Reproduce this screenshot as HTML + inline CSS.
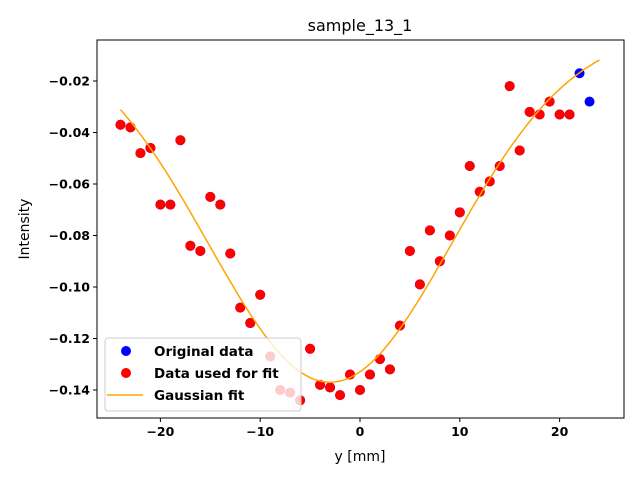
<!DOCTYPE html>
<html><head><meta charset="utf-8"><style>
body{margin:0;background:#fff}
svg{font-family:"DejaVu Sans","Liberation Sans",sans-serif}
</style></head><body>
<svg id="c" width="640" height="480" xmlns="http://www.w3.org/2000/svg"></svg>
<script>
const xs=[-24,-23,-22,-21,-20,-19,-18,-17,-16,-15,-14,-13,-12,-11,-10,-9,-8,-7,-6,-5,-4,-3,-2,-1,0,1,2,3,4,5,6,7,8,9,10,11,12,13,14,15,16,17,18,19,20,21,22,23];
const ys=[-0.037,-0.038,-0.048,-0.046,-0.068,-0.068,-0.043,-0.084,-0.086,-0.065,-0.068,-0.087,-0.108,-0.114,-0.103,-0.127,-0.140,-0.141,-0.144,-0.124,-0.138,-0.139,-0.142,-0.134,-0.140,-0.134,-0.128,-0.132,-0.115,-0.086,-0.099,-0.078,-0.090,-0.080,-0.071,-0.053,-0.063,-0.059,-0.053,-0.022,-0.047,-0.032,-0.033,-0.028,-0.033,-0.033,-0.017,-0.028];
const fitMask=xs.map(x=>x<=21);
const fitParams=[0,-0.137,-3,12.2]; // offset, amplitude, center, sigma
const xTicks=[-20,-10,0,10,20];
const yTicks=[-0.02,-0.04,-0.06,-0.08,-0.10,-0.12,-0.14];
const L=97,R=624,T=40,B=418;
const sx=v=>360+v*9.98;
const sy=v=>81+(-0.02-v)*2575;
const svg=document.getElementById('c');
const NS='http://www.w3.org/2000/svg';
function mk(tag,attrs,parent){const e=document.createElementNS(NS,tag);for(const k in attrs)e.setAttribute(k,attrs[k]);(parent||svg).appendChild(e);return e;}
let t=mk('text',{x:360,y:31,'text-anchor':'middle','font-size':16});t.textContent='sample_13_1';


const fmt=v=>(v<0?'\u2212':'')+Math.abs(v).toFixed(Number.isInteger(v)?0:2);
xTicks.forEach(v=>{const x=sx(v);
 mk('line',{x1:x,x2:x,y1:B,y2:B+4,stroke:'#000'});
 const e=mk('text',{x:x,y:B+18,'text-anchor':'middle','font-size':12.5,'font-weight':'bold'});e.textContent=fmt(v);
 
 });
yTicks.forEach(v=>{const y=sy(v);
 mk('line',{x1:L-4,x2:L,y1:y,y2:y,stroke:'#000'});
 const e=mk('text',{x:L-7,y:y+4.5,'text-anchor':'end','font-size':12.5,'font-weight':'bold'});e.textContent=fmt(v);
 
 });
t=mk('text',{x:360,y:461,'text-anchor':'middle','font-size':14});t.textContent='y [mm]';


t=mk('text',{x:29,y:229,'text-anchor':'middle','font-size':14,transform:'rotate(-90 29 229)'});t.textContent='Intensity';


xs.forEach((x,i)=>{const c=mk('circle',{cx:sx(x),cy:sy(ys[i]),r:5,fill:'#0000ff'});
 
 });
xs.forEach((x,i)=>{if(!fitMask[i])return;const c=mk('circle',{cx:sx(x),cy:sy(ys[i]),r:5,fill:'#ff0000'});
 
 });
let d='';for(let k=0;k<=200;k++){const x=-24+48*k/200;const [c0,a,m,s]=fitParams;const v=c0+a*Math.exp(-((x-m)**2)/(2*s*s));d+=(k?'L':'M')+sx(x).toFixed(1)+' '+sy(v).toFixed(1);}
const p=mk('path',{d:d,fill:'none',stroke:'#ffa500','stroke-width':1.5});


mk('rect',{x:L,y:T,width:R-L,height:B-T,fill:'none',stroke:'#000','stroke-width':1});
const g=mk('g',{});


mk('rect',{x:105,y:338,width:196,height:73,rx:3,fill:'rgba(255,255,255,0.8)',stroke:'#ccc'},g);
const items=[['Original data','#0000ff','pt'],['Data used for fit','#ff0000','pt'],['Gaussian fit','#ffa500','ln']];
items.forEach((it,i)=>{const y=351+i*22;
 if(it[2]==='pt')mk('circle',{cx:126,cy:y,r:5,fill:it[1]},g);else mk('line',{x1:107,x2:143,y1:y,y2:y,stroke:it[1],'stroke-width':1.5},g);
 const e=mk('text',{x:154,y:y+5,'font-size':13.5,'font-weight':'bold'},g);e.textContent=it[0];
 
 });
</script>
</body></html>
